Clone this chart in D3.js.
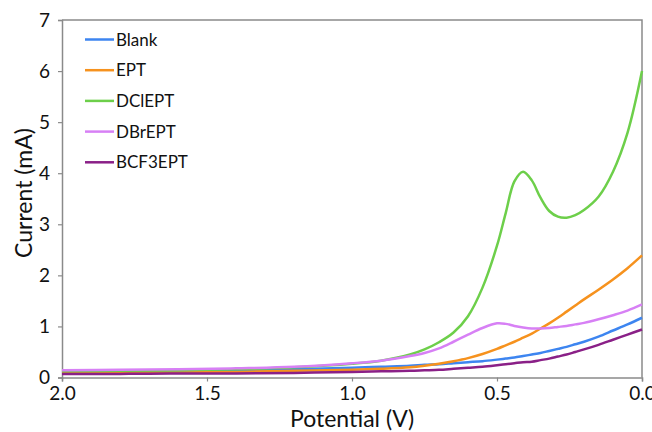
<!DOCTYPE html>
<html>
<head>
<meta charset="utf-8">
<script src="https://cdn.jsdelivr.net/npm/d3@7"></script>
<style>
  html, body { margin: 0; padding: 0; background: #fff; }
  svg { display: block; font-family: Lato, "Open Sans", sans-serif; }
</style>
</head>
<body>
<svg id="chart" width="652" height="432"></svg>
<script>
// Linear sweep voltammetry: potential (V) and current (mA) for each sample
const potential = [2.0, 1.8, 1.6, 1.4, 1.2, 1.0, 0.9, 0.8, 0.75, 0.7, 0.65, 0.6, 0.55, 0.5,
                   0.47, 0.44, 0.41, 0.38, 0.35, 0.32, 0.29, 0.26, 0.23, 0.2, 0.15, 0.1, 0.05, 0.0];

const blank   = [0.10, 0.11, 0.12, 0.14, 0.16, 0.19, 0.21, 0.23, 0.25, 0.26, 0.28, 0.30, 0.32, 0.35,
                 0.37, 0.39, 0.42, 0.45, 0.48, 0.52, 0.56, 0.60, 0.65, 0.70, 0.80, 0.92, 1.04, 1.17];
const ept     = [0.09, 0.10, 0.10, 0.11, 0.13, 0.15, 0.17, 0.20, 0.23, 0.27, 0.32, 0.38, 0.46, 0.56,
                 0.63, 0.70, 0.78, 0.86, 0.96, 1.06, 1.17, 1.29, 1.41, 1.53, 1.72, 1.92, 2.14, 2.39];
const dclept  = [0.12, 0.13, 0.14, 0.16, 0.20, 0.27, 0.33, 0.45, 0.55, 0.69, 0.88, 1.20, 1.76, 2.58,
                 3.22, 3.84, 4.03, 3.86, 3.52, 3.26, 3.15, 3.13, 3.18, 3.28, 3.54, 4.03, 4.79, 6.00];
const dbrept  = [0.14, 0.15, 0.16, 0.18, 0.21, 0.28, 0.33, 0.42, 0.48, 0.57, 0.70, 0.84, 0.97, 1.06,
                 1.05, 1.01, 0.98, 0.96, 0.96, 0.97, 0.99, 1.01, 1.04, 1.07, 1.14, 1.22, 1.31, 1.43];
const bcf3ept = [0.07, 0.07, 0.08, 0.08, 0.09, 0.11, 0.12, 0.13, 0.14, 0.15, 0.17, 0.19, 0.21, 0.24,
                 0.26, 0.28, 0.30, 0.31, 0.34, 0.37, 0.41, 0.45, 0.50, 0.55, 0.64, 0.74, 0.84, 0.94];

const seriesNames  = ["Blank", "EPT", "DClEPT", "DBrEPT", "BCF3EPT"];
const seriesValues = [blank, ept, dclept, dbrept, bcf3ept];
const seriesColors = ["#3d85f0", "#f6921e", "#6dcf4a", "#d780f5", "#8a2087"];

const xTicks = [2.0, 1.5, 1.0, 0.5, 0.0];
const yTicks = [0, 1, 2, 3, 4, 5, 6, 7];

const svg = d3.select("#chart");
const plotLeft = 62, plotRight = 642, plotTop = 20, plotBottom = 377.5;

// Potential decreases to the right
const x = d3.scaleLinear().domain([2.0, 0.0]).range([plotLeft, plotRight]);
const y = d3.scaleLinear().domain([0, 7]).range([plotBottom, plotTop]);

const axisColor = "#8a8a8a";

// Plot frame (top and right edges)
svg.append("path")
  .attr("d", `M${plotLeft},${plotTop}H${plotRight}V${plotBottom}`)
  .attr("fill", "none")
  .attr("stroke", axisColor)
  .attr("stroke-width", 1.5);

// Y axis
const yAxis = svg.append("g")
  .attr("transform", `translate(${plotLeft},0)`)
  .call(d3.axisLeft(y).tickValues(yTicks).tickFormat(d3.format("d")).tickSize(4).tickPadding(8));

// X axis
const xAxis = svg.append("g")
  .attr("transform", `translate(0,${plotBottom})`)
  .call(d3.axisBottom(x).tickValues(xTicks).tickFormat(d3.format(".1f")).tickSize(4).tickPadding(5));

[yAxis, xAxis].forEach(g => {
  g.select(".domain").attr("stroke", axisColor).attr("stroke-width", 1.5);
  g.selectAll(".tick line").attr("stroke", axisColor).attr("stroke-width", 1.2);
  g.selectAll(".tick text")
    .attr("fill", "#111")
    .style("font-family", "Lato, 'Open Sans', sans-serif")
    .style("font-size", "19px");
});

// Curves
const line = d3.line()
  .x((d, i) => x(potential[i]))
  .y(d => y(d))
  .curve(d3.curveCatmullRom.alpha(0.5));

seriesValues.forEach((vals, k) => {
  svg.append("path")
    .datum(vals)
    .attr("fill", "none")
    .attr("stroke", seriesColors[k])
    .attr("stroke-width", 2.5)
    .attr("stroke-linejoin", "round")
    .attr("d", line);
});

// Legend
const legend = svg.append("g");
seriesNames.forEach((name, k) => {
  const ly = 39.5 + k * 30.7;
  legend.append("line")
    .attr("x1", 85).attr("x2", 114)
    .attr("y1", ly).attr("y2", ly)
    .attr("stroke", seriesColors[k])
    .attr("stroke-width", 2.5);
  legend.append("text")
    .attr("x", 116).attr("y", ly)
    .attr("dy", "0.36em")
    .attr("fill", "#111")
    .style("font-size", "17px")
    .text(name);
});

// Axis titles
svg.append("text")
  .attr("x", (plotLeft + plotRight) / 2)
  .attr("y", 427)
  .attr("text-anchor", "middle")
  .attr("fill", "#111")
  .style("font-size", "23px")
  .text("Potential (V)");

svg.append("text")
  .attr("transform", `translate(32,193) rotate(-90)`)
  .attr("text-anchor", "middle")
  .attr("fill", "#111")
  .style("font-size", "23px")
  .text("Current (mA)");
</script>
</body>
</html>
